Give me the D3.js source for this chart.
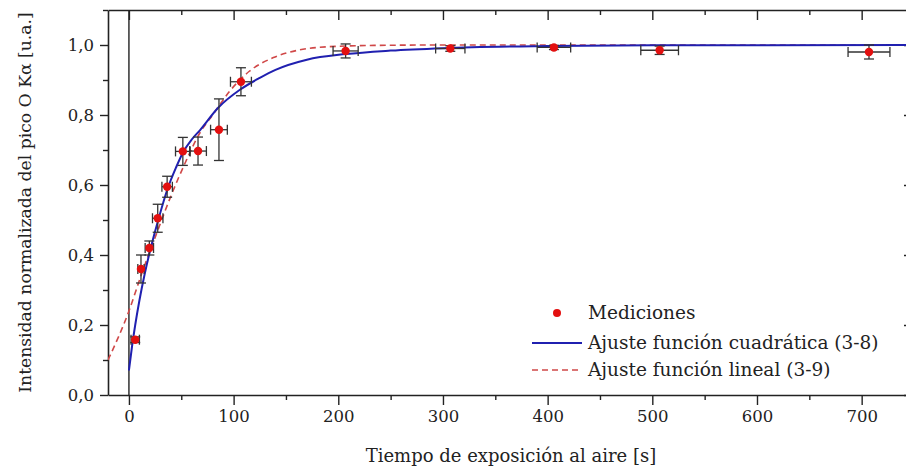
<!DOCTYPE html>
<html>
<head>
<meta charset="utf-8">
<script src="https://cdn.jsdelivr.net/npm/d3@7/dist/d3.min.js"></script>
<style>
  html, body { margin: 0; padding: 0; background: #fff; }
  svg { display: block; }
  text { font-family: "DejaVu Serif", "Liberation Serif", serif; fill: #222; }
</style>
</head>
<body>
<svg id="chart" width="906" height="473"></svg>
<script>
// ---- data ----
const timeS        = [6, 11.5, 19.5, 27.5, 36.5, 51.5, 66, 86, 107, 207, 307, 406, 507, 707];
const intensity    = [0.158, 0.36, 0.42, 0.505, 0.595, 0.696, 0.697, 0.758, 0.895, 0.983, 0.99, 0.993, 0.985, 0.98];
const timeErr      = [4, 3, 4, 5, 5, 7, 8, 8, 10, 12, 14, 16, 18, 20];
const intensityErr = [0.008, 0.04, 0.02, 0.04, 0.03, 0.04, 0.04, 0.088, 0.04, 0.02, 0.008, 0.006, 0.012, 0.02];

const fitQuadX = [0, 3, 6, 10, 15, 20, 28, 37, 45, 52, 60, 68, 85, 106, 125, 140, 170, 207, 250, 300, 400, 500, 750];
const fitQuadY = [0.07, 0.14, 0.20, 0.27, 0.345, 0.41, 0.50, 0.59, 0.65, 0.695, 0.73, 0.757, 0.82, 0.872, 0.906, 0.929, 0.958, 0.974, 0.984, 0.991, 0.997, 0.999, 1.0];

const fitLinX = [-20, 0, 12, 25, 41, 54, 68, 80, 96, 115, 138, 163, 190, 240, 300, 750];
const fitLinY = [0.10, 0.24, 0.345, 0.45, 0.575, 0.665, 0.75, 0.80, 0.867, 0.925, 0.964, 0.986, 0.995, 0.999, 1.0, 1.0];

const xTickValues = [0, 100, 200, 300, 400, 500, 600, 700];
const xMinorTicks = [50, 150, 250, 350, 450, 550, 650, 750];
const yTickValues = [0, 0.2, 0.4, 0.6, 0.8, 1.0];
const yMinorTicks = [0.1, 0.3, 0.5, 0.7, 0.9, 1.1];

const legendLabels = ["Mediciones", "Ajuste función cuadrática (3-8)", "Ajuste función lineal (3-9)"];
const xTitle = "Tiempo de exposición al aire [s]";
const yTitle = "Intensidad normalizada del pico O Kα [u.a.]";

// ---- layout ----
const svg = d3.select("#chart");
const L = 108, R = 914, T = 10, B = 395;
const x = d3.scaleLinear().domain([-20, 750]).range([L, R]);
const y = d3.scaleLinear().domain([0, 1.1]).range([B, T]);
const axisColor = "#222";
const fmt = d => d.toFixed(1).replace(".", ",");

svg.append("rect").attr("width", 906).attr("height", 473).attr("fill", "#fff");

svg.append("defs").append("clipPath").attr("id", "clip")
  .append("rect").attr("x", L).attr("y", T).attr("width", R - L).attr("height", B - T);

// zero line
svg.append("line")
  .attr("x1", x(0)).attr("x2", x(0)).attr("y1", T).attr("y2", B)
  .attr("stroke", "#111").attr("stroke-width", 1.3);

function styleAxis(g) {
  g.select(".domain").attr("stroke", axisColor).attr("stroke-width", 1.6);
  g.selectAll(".tick line").attr("stroke", axisColor).attr("stroke-width", 1.4);
  g.selectAll(".tick text").attr("fill", axisColor)
    .style("font-family", '"DejaVu Serif", "Liberation Serif", serif').style("font-size", "16.5px");
}

// bottom
const gB = svg.append("g").attr("transform", `translate(0,${B})`)
  .call(d3.axisBottom(x).tickValues(xTickValues).tickSize(10).tickPadding(5).tickFormat(d3.format("d")).tickSizeOuter(0));
styleAxis(gB);
const gBm = svg.append("g").attr("transform", `translate(0,${B})`)
  .call(d3.axisBottom(x).tickValues(xMinorTicks).tickSize(5).tickFormat("").tickSizeOuter(0));
styleAxis(gBm); gBm.select(".domain").remove();

// top
const gT = svg.append("g").attr("transform", `translate(0,${T})`)
  .call(d3.axisBottom(x).tickValues(xTickValues).tickSize(10).tickFormat("").tickSizeOuter(0));
styleAxis(gT);
const gTm = svg.append("g").attr("transform", `translate(0,${T})`)
  .call(d3.axisBottom(x).tickValues(xMinorTicks).tickSize(5).tickFormat("").tickSizeOuter(0));
styleAxis(gTm); gTm.select(".domain").remove();

// left
const gL = svg.append("g").attr("transform", `translate(${L},0)`)
  .call(d3.axisLeft(y).tickValues(yTickValues).tickSize(8).tickPadding(6).tickFormat(fmt).tickSizeOuter(0));
styleAxis(gL);
const gLm = svg.append("g").attr("transform", `translate(${L},0)`)
  .call(d3.axisLeft(y).tickValues(yMinorTicks).tickSize(5).tickFormat("").tickSizeOuter(0));
styleAxis(gLm); gLm.select(".domain").remove();

// right (mostly off-canvas)
const gR = svg.append("g").attr("transform", `translate(${R},0)`)
  .call(d3.axisLeft(y).tickValues(yTickValues).tickSize(10).tickFormat("").tickSizeOuter(0));
styleAxis(gR);
const gRm = svg.append("g").attr("transform", `translate(${R},0)`)
  .call(d3.axisLeft(y).tickValues(yMinorTicks).tickSize(5).tickFormat("").tickSizeOuter(0));
styleAxis(gRm); gRm.select(".domain").remove();

// fit curves
const plot = svg.append("g").attr("clip-path", "url(#clip)");
const line = d3.line().x(d => x(d[0])).y(d => y(d[1])).curve(d3.curveMonotoneX);

plot.append("path").datum(fitLinX.map((v, i) => [v, fitLinY[i]]))
  .attr("d", line).attr("fill", "none")
  .attr("stroke", "#d04848").attr("stroke-width", 1.6).attr("stroke-dasharray", "6,4");

plot.append("path").datum(fitQuadX.map((v, i) => [v, fitQuadY[i]]))
  .attr("d", line).attr("fill", "none")
  .attr("stroke", "#2020b0").attr("stroke-width", 2);

// error bars
const pts = timeS.map((t, i) => ({ t, v: intensity[i], et: timeErr[i], ev: intensityErr[i] }));
const eb = plot.append("g").attr("stroke", "#333").attr("stroke-width", 1.3).attr("fill", "none");
const cap = 5;
pts.forEach(p => {
  const cx = x(p.t), cy = y(p.v);
  const y1 = y(p.v + p.ev), y2 = y(p.v - p.ev);
  const x1 = x(p.t - p.et), x2 = x(p.t + p.et);
  eb.append("line").attr("x1", cx).attr("x2", cx).attr("y1", y1).attr("y2", y2);
  eb.append("line").attr("x1", cx - cap).attr("x2", cx + cap).attr("y1", y1).attr("y2", y1);
  eb.append("line").attr("x1", cx - cap).attr("x2", cx + cap).attr("y1", y2).attr("y2", y2);
  eb.append("line").attr("x1", x1).attr("x2", x2).attr("y1", cy).attr("y2", cy);
  eb.append("line").attr("x1", x1).attr("x2", x1).attr("y1", cy - cap).attr("y2", cy + cap);
  eb.append("line").attr("x1", x2).attr("x2", x2).attr("y1", cy - cap).attr("y2", cy + cap);
});

plot.selectAll("circle.pt").data(pts).enter().append("circle")
  .attr("class", "pt")
  .attr("cx", d => x(d.t)).attr("cy", d => y(d.v)).attr("r", 4.2)
  .attr("fill", "#e31010");

// legend
const lg = svg.append("g");
lg.append("circle").attr("cx", 557).attr("cy", 313).attr("r", 4).attr("fill", "#e31010");
lg.append("line").attr("x1", 532).attr("x2", 582).attr("y1", 343).attr("y2", 343)
  .attr("stroke", "#2020b0").attr("stroke-width", 2);
lg.append("line").attr("x1", 532).attr("x2", 582).attr("y1", 370).attr("y2", 370)
  .attr("stroke", "#d04848").attr("stroke-width", 1.6).attr("stroke-dasharray", "6,4");
[313, 343, 370].forEach((yy, i) => {
  lg.append("text").attr("x", 588).attr("y", yy).attr("dy", "0.35em")
    .style("font-size", "18.5px").text(legendLabels[i]);
});

// titles
svg.append("text").attr("x", (L + R) / 2).attr("y", 462).attr("text-anchor", "middle")
  .style("font-size", "18px").text(xTitle);
svg.append("text").attr("transform", `translate(31,${(T + B) / 2}) rotate(-90)`)
  .attr("text-anchor", "middle").style("font-size", "17.2px").text(yTitle);
</script>
</body>
</html>
